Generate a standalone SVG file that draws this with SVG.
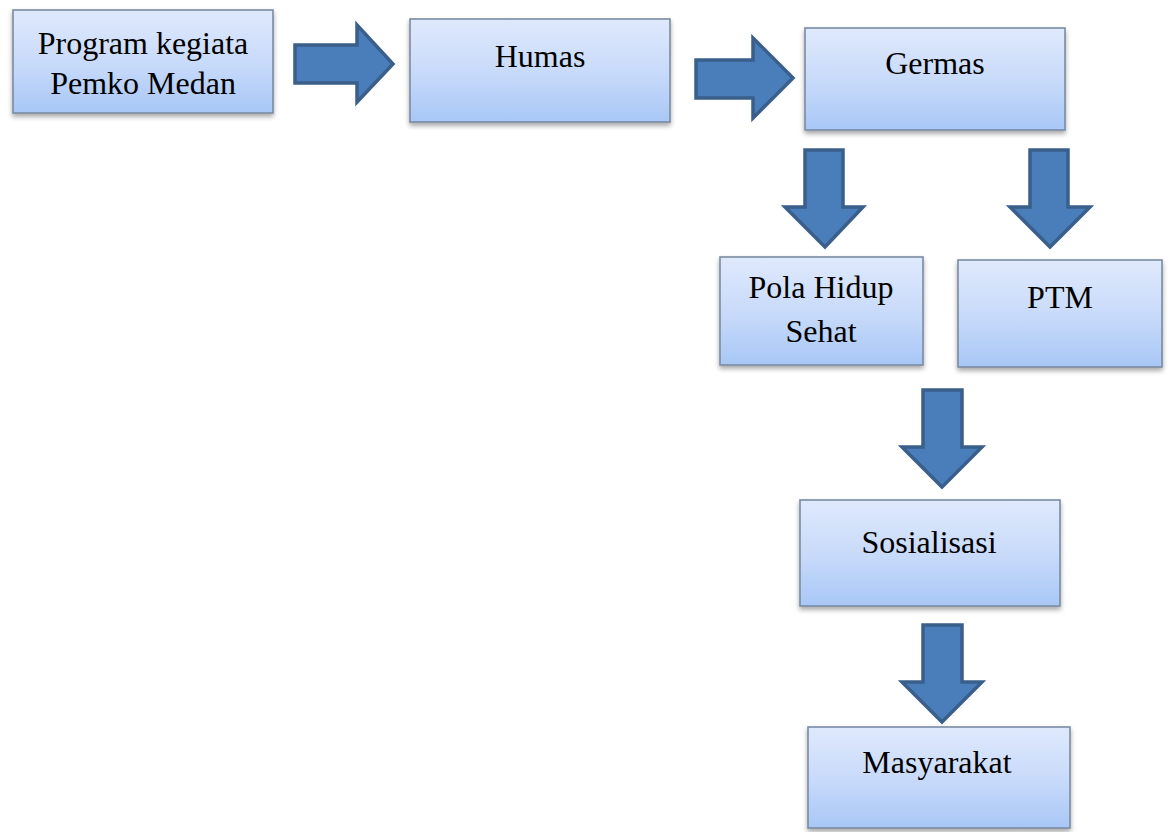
<svg xmlns="http://www.w3.org/2000/svg" width="1171" height="832" viewBox="0 0 1171 832">
<defs>
<linearGradient id="boxFill" x1="0" y1="0" x2="0" y2="1">
<stop offset="0" stop-color="#dfe9fc"/>
<stop offset="0.5" stop-color="#c9dbfa"/>
<stop offset="1" stop-color="#a8c7f6"/>
</linearGradient>
<filter id="shadow" x="-10%" y="-10%" width="120%" height="130%">
<feGaussianBlur in="SourceAlpha" stdDeviation="2.5"/>
<feOffset dx="0" dy="3" result="b"/>
<feComponentTransfer><feFuncA type="linear" slope="0.35"/></feComponentTransfer>
<feMerge><feMergeNode/><feMergeNode in="SourceGraphic"/></feMerge>
</filter>
</defs>
<style>
.box{fill:url(#boxFill);stroke:#7a8ba3;stroke-width:1.6;filter:url(#shadow)}
.lbl{font-family:'Liberation Serif','DejaVu Serif',serif;font-size:32px;fill:#000;text-anchor:middle}
.arr{fill:#4a7ebb;stroke:#3a5f8b;stroke-width:3.5;stroke-linejoin:miter}
</style>
<rect width="1171" height="832" fill="#ffffff"/>
<g id="connectors">
<path class="arr" d="M295,45 H357 V25 L393,64 L357,102 V83 H295 Z"/>
<path class="arr" d="M696,60 H753 V38 L793,78 L753,118 V98 H696 Z"/>
<path class="arr" d="M805,150 H843 V207 H863 L825,247 L785,207 H805 Z"/>
<path class="arr" d="M1030,150 H1068 V207 H1090 L1050,247 L1010,207 H1030 Z"/>
<path class="arr" d="M923,390 H962 V447 H982 L942,487 L902,447 H923 Z"/>
<path class="arr" d="M923,625 H962 V682 H982 L942,722 L902,682 H923 Z"/>
</g>
<g id="node-program">
<rect class="box" x="13" y="10" width="260" height="103"/>
<text class="lbl" font-family="Liberation Serif, serif" x="143" y="54">Program kegiata</text>
<text class="lbl" font-family="Liberation Serif, serif" x="143" y="94">Pemko Medan</text>
</g>
<g id="node-humas">
<rect class="box" x="410" y="19" width="260" height="103"/>
<text class="lbl" x="540" y="67">Humas</text>
</g>
<g id="node-germas">
<rect class="box" x="805" y="28" width="260" height="102"/>
<text class="lbl" x="935" y="74">Germas</text>
</g>
<g id="node-pola">
<rect class="box" x="720" y="257" width="203" height="108"/>
<text class="lbl" x="821" y="298">Pola Hidup</text>
<text class="lbl" x="821" y="342">Sehat</text>
</g>
<g id="node-ptm">
<rect class="box" x="958" y="260" width="204" height="107"/>
<text class="lbl" x="1060" y="308">PTM</text>
</g>
<g id="node-sosialisasi">
<rect class="box" x="800" y="500" width="260" height="106"/>
<text class="lbl" x="929" y="553">Sosialisasi</text>
</g>
<g id="node-masyarakat">
<rect class="box" x="808" y="727" width="262" height="101"/>
<text class="lbl" x="937" y="773">Masyarakat</text>
</g>
</svg>
